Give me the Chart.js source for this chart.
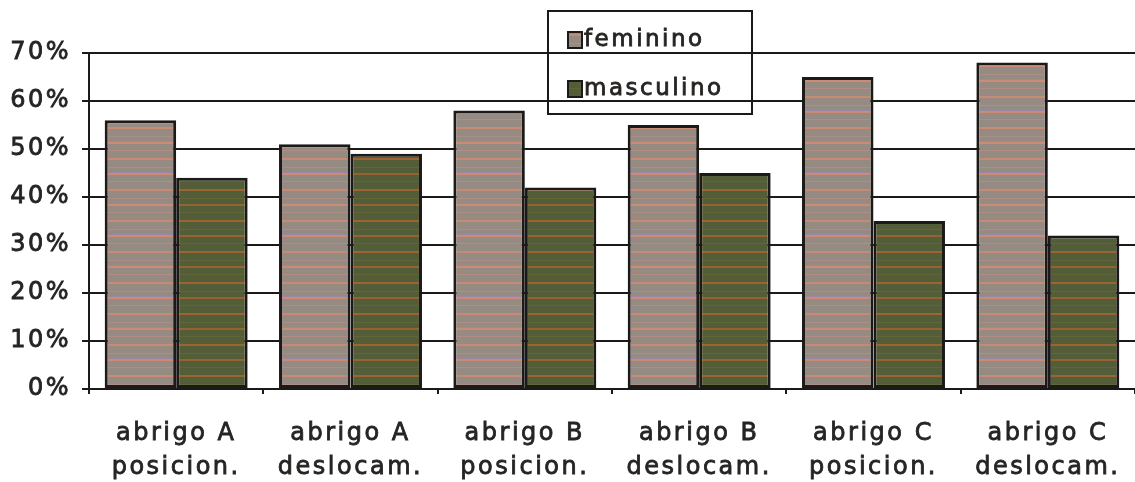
<!DOCTYPE html>
<html>
<head>
<meta charset="utf-8">
<script src="https://cdn.jsdelivr.net/npm/chart.js@4.4.1/dist/chart.umd.min.js"></script>
<style>
  html, body { margin: 0; padding: 0; background: #ffffff; }
  #wrap { width: 1135px; height: 482px; position: relative; }
</style>
</head>
<body>
<div id="wrap"><canvas id="c" width="1135" height="482"></canvas></div>
<script>
// Categories (two-line labels) and share of each sex, in percent
const categories = [
  ['abrigo A', 'posicion.'],
  ['abrigo A', 'deslocam.'],
  ['abrigo B', 'posicion.'],
  ['abrigo B', 'deslocam.'],
  ['abrigo C', 'posicion.'],
  ['abrigo C', 'deslocam.']
];
const seriesNames = ['feminino', 'masculino'];
const feminino = [56, 51, 58, 55, 65, 68];
const masculino = [44, 49, 42, 45, 35, 32];
const yTicks = [0, 10, 20, 30, 40, 50, 60, 70];

const INK = '#1c1a18';
const TEXT = '#262422';
const FONT = '"DejaVu Sans", Verdana, sans-serif';

// Horizontally banded fill, like a coarse halftone print
function bandedFill(base, bands) {
  const p = document.createElement('canvas');
  p.width = 8; p.height = 31;
  const g = p.getContext('2d');
  g.fillStyle = base;
  g.fillRect(0, 0, p.width, p.height);
  bands.forEach(([y, h, col]) => { g.fillStyle = col; g.fillRect(0, y, p.width, h); });
  return g.createPattern(p, 'repeat');
}

const ctx0 = document.getElementById('c').getContext('2d');
const femFill = bandedFill('#958b82', [
  [3, 2, '#c88a74'], [12, 1, '#a89088'], [17, 1, '#9888a6'],
  [18, 2, '#cc8b72'], [26, 1, '#b08e84']
]);
const mascFill = bandedFill('#535d37', [
  [3, 2, '#9e6430'], [12, 1, '#626739'], [18, 2, '#96622f'], [26, 1, '#5f6539']
]);

// Spacing between glyphs, applied whenever the canvas state is (re)built
const spacing = {
  id: 'spacing',
  beforeUpdate(chart) { chart.ctx.letterSpacing = '2.5px'; },
  beforeDraw(chart) { chart.ctx.letterSpacing = '2.5px'; }
};

// Boxed legend floating over the plot
const boxLegend = {
  id: 'boxLegend',
  afterDatasetsDraw(chart) {
    const c = chart.ctx;
    c.save();
    c.letterSpacing = '2.5px';
    c.strokeStyle = INK;
    c.lineWidth = 2;
    c.strokeRect(548, 11, 204, 103);
    chart.data.datasets.forEach((ds, i) => {
      const y = 40 + i * 49;
      c.fillStyle = ds.backgroundColor;
      c.fillRect(568, y - 8, 14, 16);
      c.lineWidth = 2;
      c.strokeStyle = INK;
      c.strokeRect(568, y - 8, 14, 16);
      c.font = '23px ' + FONT;
      c.textBaseline = 'middle';
      c.textAlign = 'left';
      c.lineWidth = 0.8;
      c.strokeStyle = TEXT;
      c.strokeText(ds.label, 584, y);
      c.fillStyle = TEXT;
      c.fillText(ds.label, 584, y);
    });
    c.restore();
  }
};

new Chart(ctx0, {
  type: 'bar',
  data: {
    labels: categories,
    datasets: [
      { label: seriesNames[0], data: feminino, backgroundColor: femFill },
      { label: seriesNames[1], data: masculino, backgroundColor: mascFill }
    ]
  },
  options: {
    responsive: false,
    animation: false,
    devicePixelRatio: 1,
    layout: { padding: { top: 53, right: 0, left: 0, bottom: 0 } },
    datasets: {
      bar: {
        borderColor: INK,
        borderWidth: 3,
        borderSkipped: false,
        categoryPercentage: 0.82,
        barPercentage: 1.0
      }
    },
    plugins: {
      legend: { display: false },
      tooltip: { enabled: false },
      title: { display: false }
    },
    scales: {
      x: {
        offset: true,
        grid: {
          display: true,
          drawOnChartArea: false,
          offset: true,
          color: INK,
          lineWidth: 2,
          tickLength: 5
        },
        border: { display: true, color: INK, width: 2 },
        ticks: {
          color: TEXT,
          textStrokeColor: TEXT,
          textStrokeWidth: 0.8,
          font: { family: FONT, size: 24, lineHeight: 1.42 },
          padding: 23,
          maxRotation: 0,
          autoSkip: false
        },
        afterFit(scale) {
          scale.height = 93;
          scale.paddingLeft = 0;
          scale.paddingRight = 0;
        }
      },
      y: {
        min: 0,
        max: 70,
        afterBuildTicks(scale) { scale.ticks = yTicks.map(v => ({ value: v })); },
        grid: {
          color: INK,
          lineWidth: 2,
          drawTicks: true,
          tickLength: 7,
          tickColor: INK
        },
        border: { display: true, color: INK, width: 2 },
        ticks: {
          color: TEXT,
          textStrokeColor: TEXT,
          textStrokeWidth: 0.8,
          font: { family: FONT, size: 24 },
          padding: 11,
          callback: v => v + '%'
        },
        afterFit(scale) { scale.width = 89; }
      }
    }
  },
  plugins: [spacing, boxLegend]
});
</script>
</body>
</html>
